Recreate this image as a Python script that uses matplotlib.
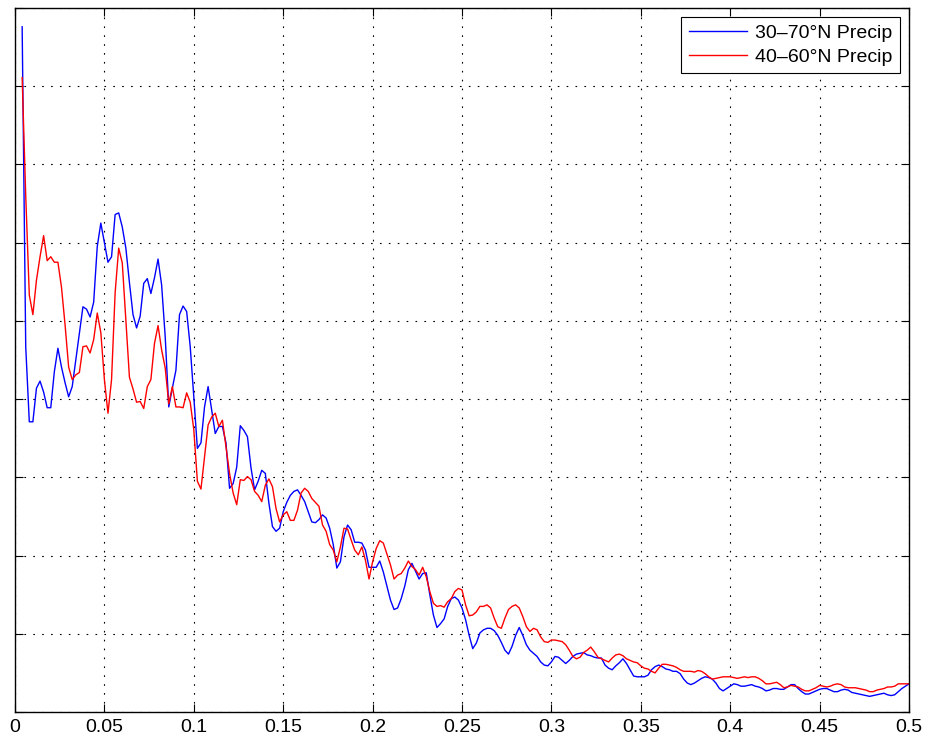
import numpy as np
import matplotlib
matplotlib.use("Agg")
import matplotlib.pyplot as plt

plt.rcParams['font.family'] = ['Liberation Sans', 'DejaVu Sans']

# spectral estimates at frequencies k/500, k = 2..250
k_first = 2
n_len = 500

precip_30_70 = [
    8.76, 4.67, 3.71, 3.71, 4.14, 4.23, 4.09, 3.89, 3.89,
    4.35, 4.65, 4.41, 4.21, 4.03, 4.16, 4.50, 4.85, 5.18, 5.15,
    5.05, 5.24, 5.95, 6.25, 6.00, 5.75, 5.82, 6.36, 6.38, 6.20,
    5.93, 5.49, 5.08, 4.91, 5.06, 5.48, 5.54, 5.35, 5.55, 5.79,
    5.46, 4.80, 3.90, 4.14, 4.37, 5.08, 5.19, 5.12, 4.67, 4.03,
    3.37, 3.44, 3.90, 4.16, 3.86, 3.56, 3.65, 3.65, 3.44, 2.86,
    2.92, 3.13, 3.66, 3.60, 3.52, 3.12, 2.84, 2.95, 3.09, 3.05,
    2.67, 2.37, 2.31, 2.35, 2.56, 2.68, 2.77, 2.82, 2.84, 2.77,
    2.69, 2.56, 2.43, 2.42, 2.46, 2.52, 2.48, 2.35, 2.14, 1.84,
    1.92, 2.24, 2.39, 2.33, 2.17, 2.17, 2.16, 2.07, 1.85, 1.85,
    1.85, 1.93, 1.79, 1.61, 1.43, 1.31, 1.33, 1.45, 1.61, 1.82,
    1.90, 1.80, 1.70, 1.77, 1.78, 1.50, 1.24, 1.08, 1.13, 1.19,
    1.35, 1.45, 1.47, 1.43, 1.33, 1.18, 0.98, 0.81, 0.88, 1.01,
    1.05, 1.07, 1.07, 1.04, 0.98, 0.89, 0.79, 0.74, 0.84, 0.98,
    1.08, 0.98, 0.86, 0.79, 0.75, 0.71, 0.64, 0.60, 0.59, 0.64,
    0.71, 0.70, 0.66, 0.62, 0.66, 0.71, 0.74, 0.75, 0.76, 0.73,
    0.72, 0.70, 0.69, 0.69, 0.60, 0.56, 0.54, 0.59, 0.63, 0.68,
    0.62, 0.54, 0.46, 0.45, 0.45, 0.45, 0.47, 0.54, 0.58, 0.60,
    0.58, 0.55, 0.54, 0.52, 0.52, 0.49, 0.42, 0.37, 0.35, 0.37,
    0.40, 0.43, 0.45, 0.44, 0.42, 0.37, 0.30, 0.27, 0.30, 0.33,
    0.36, 0.35, 0.33, 0.33, 0.34, 0.35, 0.33, 0.32, 0.30, 0.27,
    0.28, 0.30, 0.30, 0.29, 0.29, 0.32, 0.35, 0.35, 0.30, 0.26,
    0.23, 0.23, 0.25, 0.27, 0.29, 0.30, 0.30, 0.28, 0.26, 0.26,
    0.28, 0.29, 0.28, 0.25, 0.24, 0.23, 0.22, 0.21, 0.20, 0.21,
    0.22, 0.23, 0.24, 0.22, 0.21, 0.22, 0.26, 0.30, 0.33, 0.36,
]

precip_40_60 = [
    8.11, 6.60, 5.33, 5.08, 5.52, 5.82, 6.09, 5.77, 5.82,
    5.75, 5.75, 5.43, 4.95, 4.41, 4.25, 4.31, 4.34, 4.67, 4.68,
    4.59, 4.76, 5.10, 4.85, 4.25, 3.82, 4.25, 5.36, 5.93, 5.74,
    5.01, 4.28, 4.13, 3.96, 3.97, 3.88, 4.16, 4.25, 4.71, 4.94,
    4.63, 4.40, 3.94, 4.16, 3.90, 3.90, 3.89, 4.08, 3.96, 3.61,
    2.95, 2.85, 3.26, 3.67, 3.77, 3.82, 3.65, 3.73, 3.39, 3.05,
    2.80, 2.65, 2.97, 2.96, 3.01, 2.97, 2.82, 2.77, 2.69, 2.90,
    2.98, 2.88, 2.60, 2.43, 2.52, 2.56, 2.45, 2.45, 2.58, 2.80,
    2.86, 2.82, 2.73, 2.68, 2.63, 2.39, 2.31, 2.14, 2.07, 1.92,
    2.11, 2.35, 2.34, 2.20, 2.07, 2.01, 2.11, 1.94, 1.70, 1.92,
    2.09, 2.19, 2.16, 2.02, 1.88, 1.70, 1.75, 1.77, 1.84, 1.93,
    1.86, 1.82, 1.75, 1.85, 1.73, 1.54, 1.39, 1.35, 1.36, 1.34,
    1.41, 1.45, 1.54, 1.58, 1.56, 1.37, 1.23, 1.24, 1.28, 1.35,
    1.35, 1.37, 1.33, 1.20, 1.09, 1.07, 1.20, 1.31, 1.35, 1.37,
    1.33, 1.22, 1.09, 1.03, 1.07, 1.05, 0.96, 0.90, 0.89, 0.92,
    0.92, 0.91, 0.90, 0.86, 0.79, 0.71, 0.68, 0.70, 0.76, 0.79,
    0.83, 0.77, 0.70, 0.68, 0.66, 0.64, 0.69, 0.73, 0.74, 0.72,
    0.68, 0.66, 0.64, 0.63, 0.59, 0.56, 0.55, 0.52, 0.50, 0.56,
    0.61, 0.61, 0.60, 0.59, 0.57, 0.54, 0.52, 0.52, 0.52, 0.51,
    0.53, 0.52, 0.49, 0.45, 0.42, 0.43, 0.44, 0.45, 0.45, 0.45,
    0.44, 0.43, 0.44, 0.45, 0.44, 0.45, 0.45, 0.43, 0.40, 0.36,
    0.36, 0.37, 0.38, 0.35, 0.31, 0.32, 0.34, 0.33, 0.32, 0.29,
    0.27, 0.27, 0.29, 0.31, 0.34, 0.33, 0.32, 0.33, 0.35, 0.36,
    0.35, 0.32, 0.31, 0.31, 0.31, 0.30, 0.29, 0.28, 0.26, 0.26,
    0.28, 0.29, 0.30, 0.32, 0.32, 0.33, 0.36, 0.36, 0.36, 0.36,
]

labels = ['30\u201370\u00b0N Precip', '40\u201360\u00b0N Precip']
xticks = [0, 0.05, 0.1, 0.15, 0.2, 0.25, 0.3, 0.35, 0.4, 0.45, 0.5]
xtick_labels = ['0', '0.05', '0.1', '0.15', '0.2', '0.25', '0.3', '0.35', '0.4', '0.45', '0.5']
yticks = list(range(0, 10))

freq = np.arange(k_first, k_first + len(precip_30_70)) / n_len

fig = plt.figure(figsize=(9.27, 7.47), dpi=100)
ax = fig.add_axes([15 / 927, 1 - 712 / 747, 894 / 927, 704 / 747])

ax.plot(freq, precip_30_70, color=(0, 0, 1), lw=1.0, label=labels[0])
ax.plot(freq, precip_40_60, color=(1, 0, 0), lw=1.0, label=labels[1])

ax.set_xlim(0, 0.5)
ax.set_ylim(0, 9)
ax.set_xticks(xticks)
ax.set_xticklabels(xtick_labels, fontsize=14)
ax.set_yticks(yticks)
ax.set_yticklabels([])

ax.tick_params(direction='in', top=True, right=True, length=6, width=0.8, pad=5)
ax.grid(True, color='black', linestyle=(0, (1.5, 6.5)), linewidth=0.8)
for sp in ax.spines.values():
    sp.set_linewidth(1.0)

leg = ax.legend(loc='upper right', fontsize=14, handlelength=3.0, fancybox=False,
                edgecolor='black', framealpha=1, borderaxespad=0.45,
                borderpad=0.4, labelspacing=0.3, handletextpad=0.4)
leg.get_frame().set_linewidth(0.8)

fig.savefig('out.png', dpi=100)
